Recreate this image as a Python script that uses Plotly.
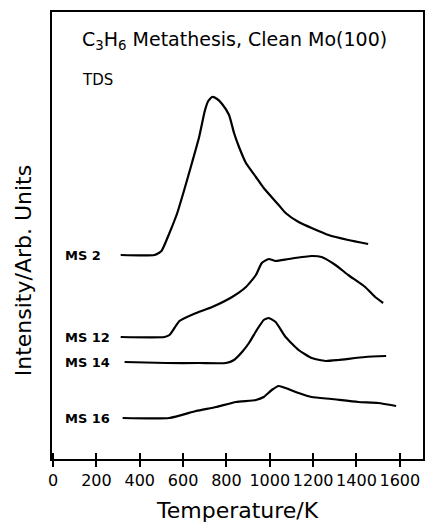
import plotly.graph_objects as go

# Temperature (K) and intensity (arb. units, offset traces)
ms2_T = [312, 468, 500, 537, 573, 605, 642, 674, 700, 716, 734, 757, 780, 812, 835, 858, 890, 936, 972, 1041, 1073, 1133, 1271, 1362, 1454]
ms2_I = [204, 204, 208, 226, 246, 269, 297, 322, 348, 358, 362, 360, 355, 344, 326, 312, 296, 282, 271, 254, 246, 237, 224, 219, 215]

ms12_T = [312, 514, 537, 560, 583, 660, 734, 826, 890, 936, 963, 995, 1027, 1087, 1193, 1239, 1303, 1362, 1440, 1486, 1523]
ms12_I = [122, 122, 124, 131, 138, 146, 152, 162, 172, 184, 196, 200, 198, 200, 203, 202, 194, 184, 172, 162, 156]

ms14_T = [330, 523, 674, 798, 835, 872, 904, 940, 972, 995, 1027, 1073, 1133, 1193, 1257, 1317, 1440, 1537]
ms14_I = [97, 96, 96, 96, 99, 107, 116, 129, 139, 141, 137, 122, 109, 101, 98, 99, 102, 103]

ms16_T = [321, 537, 660, 752, 844, 936, 972, 1009, 1041, 1073, 1133, 1193, 1284, 1408, 1500, 1583]
ms16_I = [41, 41, 48, 52, 57, 59, 62, 69, 73, 71, 66, 62, 60, 57, 56, 53]

series = [("MS 2", ms2_T, ms2_I), ("MS 12", ms12_T, ms12_I),
          ("MS 14", ms14_T, ms14_I), ("MS 16", ms16_T, ms16_I)]

tick_vals = [0, 200, 400, 600, 800, 1000, 1200, 1400, 1600]
tick_text = ["0", "200", "400", "600", "800", "1000", "1200", "1400", "1600"]

FONT = "DejaVu Sans"
fig = go.Figure()
for name, T, I in series:
    fig.add_trace(go.Scatter(x=T, y=I, mode="lines", name=name,
                             line=dict(color="black", width=2.2, shape="spline", smoothing=0.5),
                             showlegend=False))
    fig.add_annotation(x=46, y=I[0], xref="x", yref="y", text="<b>" + name + "</b>",
                       showarrow=False, xanchor="left", yanchor="middle",
                       font=dict(family=FONT, size=13, color="black"))

# invisible trace on second x-axis for inside ticks
fig.add_trace(go.Scatter(x=[tick_vals[0]], y=[0], xaxis="x2", mode="markers",
                         marker=dict(opacity=0), showlegend=False, hoverinfo="skip"))

fig.update_layout(
    width=426, height=524,
    margin=dict(l=52, r=1, t=12, b=65),
    plot_bgcolor="white", paper_bgcolor="white",
    xaxis=dict(range=[-5, 1707], tickvals=tick_vals, ticktext=tick_text, tickangle=0,
               ticks="outside", ticklen=6, tickwidth=1.5, tickcolor="black",
               showline=True, linecolor="black", linewidth=2, mirror=True,
               showgrid=False, zeroline=False,
               tickfont=dict(family=FONT, size=16, color="black")),
    xaxis2=dict(range=[-5, 1707], overlaying="x", side="bottom", tickvals=tick_vals,
                ticks="inside", ticklen=6, tickwidth=1.5, tickcolor="black",
                showticklabels=False, showgrid=False, zeroline=False, showline=False),
    yaxis=dict(range=[0, 447], showticklabels=False, ticks="", showgrid=False,
               zeroline=False, showline=True, linecolor="black", linewidth=2, mirror=True),
)

fig.add_annotation(x=0.5, y=0, xref="paper", yref="paper", yshift=-51,
                   text="Temperature/K", showarrow=False, xanchor="center", yanchor="middle",
                   font=dict(family=FONT, size=22, color="black"))
fig.add_annotation(x=0, y=0.42, xref="paper", yref="paper", xshift=-29,
                   text="Intensity/Arb. Units", showarrow=False, textangle=-90,
                   xanchor="center", yanchor="middle",
                   font=dict(family=FONT, size=22, color="black"))
fig.add_annotation(x=0.075, y=0.937, xref="paper", yref="paper",
                   text="C<sub>3</sub>H<sub>6</sub> Metathesis, Clean Mo(100)", showarrow=False,
                   xanchor="left", yanchor="middle",
                   font=dict(family=FONT, size=19, color="black"))
fig.add_annotation(x=0.075, y=0.848, xref="paper", yref="paper",
                   text="TDS", showarrow=False, xanchor="left", yanchor="middle",
                   font=dict(family=FONT, size=15, color="black"))

fig.write_html("out.html")
